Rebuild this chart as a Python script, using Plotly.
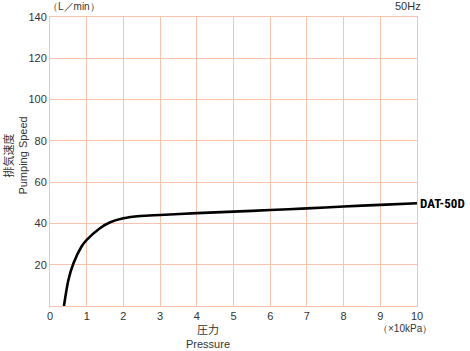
import plotly.graph_objects as go

pressure = [0.38, 0.5, 0.64, 0.86, 1.0, 1.36, 1.64, 2.0, 2.46, 3.0, 4.0, 5.0, 6.0, 7.0, 8.0, 9.0, 10.0]
speed = [0.0, 12.5, 20.7, 28.8, 32.0, 37.7, 40.6, 42.5, 43.6, 44.1, 45.0, 45.7, 46.5, 47.3, 48.2, 49.0, 49.8]
x_ticks = list(range(0, 11))
y_ticks = [20, 40, 60, 80, 100, 120, 140]
series_name = "DAT-50D"

grid = "#f8c3ac"
font = "Liberation Sans, Arial, sans-serif"
txt = "#333333"

fig = go.Figure()
fig.add_trace(go.Scatter(x=pressure, y=speed, mode="lines",
                         line=dict(color="black", width=2.6, shape="spline", smoothing=0.8),
                         showlegend=False, hoverinfo="skip"))

fig.update_layout(
    width=470, height=351,
    margin=dict(l=50, r=53, t=17, b=45),
    paper_bgcolor="white", plot_bgcolor="white",
    font=dict(family=font, size=11, color=txt),
    xaxis=dict(range=[0, 10], tickvals=x_ticks, showgrid=True, gridcolor=grid, gridwidth=1,
               showline=True, linecolor=grid, linewidth=1, mirror=True, zeroline=False,
               ticks="", tickfont=dict(size=11, color=txt)),
    yaxis=dict(range=[0, 140], tickvals=y_ticks, showgrid=True, gridcolor=grid, gridwidth=1,
               showline=True, linecolor=grid, linewidth=1, mirror=True, zeroline=False,
               ticks="", tickfont=dict(size=11, color=txt)),
)

fig.add_annotation(x=10, y=speed[-1], xref="x", yref="y", text="<b>" + series_name + "</b>",
                   showarrow=False, xanchor="left", xshift=1,
                   font=dict(family="Liberation Sans Narrow, Roboto Condensed, Roboto, sans-serif",
                             size=13, color="black"))
fig.add_annotation(x=0, y=1, xref="paper", yref="paper", text="（L／min）", showarrow=False,
                   xanchor="left", yanchor="bottom", xshift=-4, yshift=3,
                   font=dict(size=10, color=txt))
fig.add_annotation(x=1, y=1, xref="paper", yref="paper", text="50Hz", showarrow=False,
                   xanchor="center", yanchor="bottom", xshift=-9, yshift=3,
                   font=dict(size=11, color=txt))
fig.add_annotation(x=1, y=0, xref="paper", yref="paper", text="（×10kPa）", showarrow=False,
                   xanchor="center", yanchor="top", xshift=-12, yshift=-15,
                   font=dict(size=10, color=txt))
fig.add_annotation(x=0.43, y=0, xref="paper", yref="paper", text="圧力<br>Pressure", showarrow=False,
                   xanchor="center", yanchor="top", yshift=-16,
                   font=dict(family="Liberation Sans, Noto Sans CJK JP, sans-serif", size=11, color=txt))
fig.add_annotation(x=-0.093, y=0.52, xref="paper", yref="paper", text="排気速度<br>Pumping Speed",
                   showarrow=False, textangle=-90, xanchor="center", yanchor="middle",
                   font=dict(family="Liberation Sans, Noto Sans CJK JP, sans-serif", size=11, color=txt))

fig.write_html("out.html")
